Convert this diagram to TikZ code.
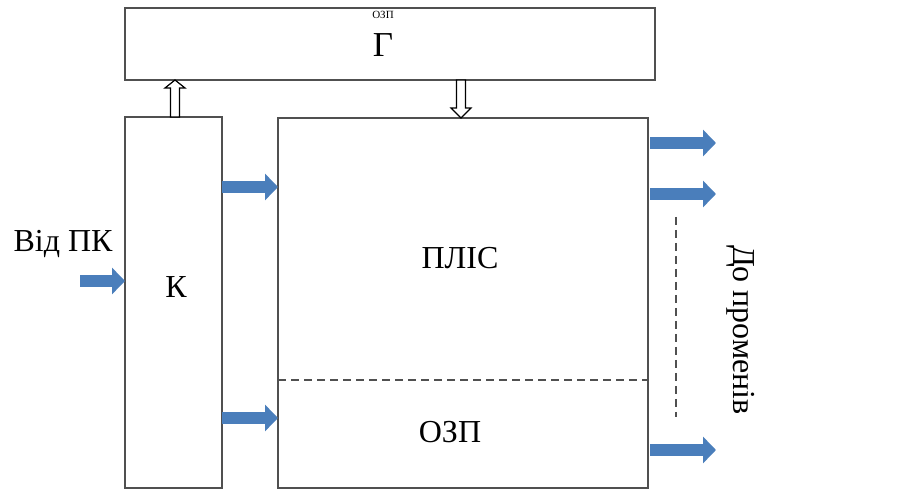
\documentclass[tikz,border=0pt]{standalone}
\usepackage{fontspec}
\setmainfont{Liberation Serif}
\usetikzlibrary{positioning,arrows.meta,calc}
\definecolor{arrblue}{RGB}{74,126,187}
\definecolor{boxline}{RGB}{80,80,80}

\begin{document}
\begin{tikzpicture}[x=0.5pt,y=0.5pt,
  box/.style={draw=boxline,thick,inner sep=0,outer sep=0},
  lbl/.style={font=\fontsize{16}{18}\selectfont,inner sep=0},
  dashline/.style={boxline,thick,dash pattern=on 4pt off 2.5pt},
  bluearrow/.style={arrblue,line width=6pt,-{Triangle[length=6.5pt,width=13pt]}},
  hollow/.style={draw=black,fill=white,line width=0.6pt}]
\useasboundingbox (0,0) rectangle (901,493);
% blocks
\node[box,minimum width=265pt,minimum height=36pt] (G) at (390,449) {};
\node[box,minimum width=48.5pt,minimum height=185.5pt] (K) at (173.5,190.5) {};
\node[box,minimum width=185pt,minimum height=185pt] (P) at (463,190) {};
\draw[dashline] (P.west |- 0,113) -- (P.east |- 0,113);
% labels
\node[font=\fontsize{5.5}{6}\selectfont,inner sep=0] (Gtop) at (383,478) {ОЗП};
\node[lbl,font=\fontsize{17.5}{19}\selectfont] (Glbl) at (383,448) {Г};
\node[lbl] (Klbl) at (176,206) {К};
\node[lbl] (Plbl) at (460,235) {ПЛІС};
\node[lbl] (Rlbl) at (450,61) {ОЗП};
\node[lbl] (src) at (63,249) {Від ПК};
\node[lbl,rotate=-90] (dst) at (741,163) {До променів};
% hollow arrows K -> G, G -> P
\coordinate (up) at ($(K.north)+(1.5,0)$);
\draw[hollow] (up) ++(-4.5,0) -- ++(0,29) -- ++(-5.5,0) -- ++(10,8) -- ++(10,-8)
  -- ++(-5.5,0) -- ++(0,-29) -- cycle;
\coordinate (down) at ($(G.south)+(71,0)$);
\draw[hollow] (down) ++(-4.5,0) -- ++(0,-28) -- ++(-5.5,0) -- ++(10,-10) -- ++(10,10)
  -- ++(-5.5,0) -- ++(0,28) -- cycle;
% blue arrows
\coordinate (in) at (80,212);
\draw[bluearrow] (in) -- (in -| K.west);
\foreach \y in {306,75}
  \draw[bluearrow] (K.east |- 0,\y) -- (P.west |- 0,\y);
\foreach \y in {350,299,43}
  \draw[bluearrow] ($(P.east |- 0,\y)+(2,0)$) -- ++(66,0);
\draw[dashline] (676,276) -- (676,76);
\end{tikzpicture}
\end{document}
